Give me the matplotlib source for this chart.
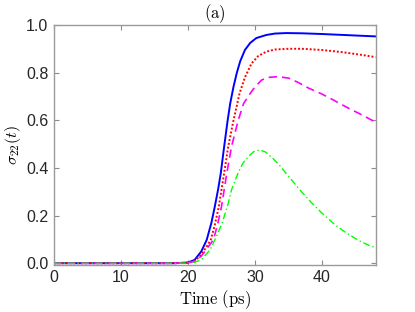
import matplotlib as mpl
import matplotlib.pyplot as plt

params = {
    "font.family": "sans-serif",
    "font.sans-serif": ["Liberation Sans", "DejaVu Sans"],
    "font.size": 10,
    "mathtext.fontset": "cm",
    "xtick.direction": "in",
    "ytick.direction": "in",
    "xtick.top": True,
    "ytick.right": True,
    "xtick.major.size": 3.5,
    "ytick.major.size": 3.5,
    "xtick.color": "#8c8c8c",
    "ytick.color": "#8c8c8c",
    "xtick.labelcolor": "#262626",
    "ytick.labelcolor": "#262626",
    "axes.edgecolor": "#9a9a9a",
    "axes.linewidth": 1.0,
}
mpl.rcParams.update(params)

# sigma_22(t) curves
t_blue = [0, 10, 18, 20, 21, 22, 22.8, 23.5, 24, 24.5, 24.9, 25.4, 25.9, 26.3,
          26.8, 27.3, 27.8, 28.5, 29.3, 30.2, 31.7, 33, 34.7, 37, 40, 44, 48]
s_blue = [0.0, 0.0, 0.0, 0.003, 0.014, 0.05, 0.098, 0.17, 0.237, 0.31, 0.378,
          0.489, 0.595, 0.67, 0.741, 0.80, 0.848, 0.895, 0.925, 0.945, 0.958,
          0.964, 0.966, 0.965, 0.962, 0.957, 0.952]

t_red = [0, 10, 18, 20, 21, 22, 23.4, 24, 24.6, 25.4, 26.0, 26.8, 27.7, 28.5,
         29.5, 30.5, 31.7, 33, 35, 37, 40, 43, 46, 48]
s_red = [0.0, 0.0, 0.0, 0.002, 0.01, 0.035, 0.098, 0.16, 0.237, 0.378, 0.489,
         0.60, 0.713, 0.78, 0.839, 0.87, 0.888, 0.897, 0.90, 0.90, 0.895,
         0.886, 0.874, 0.865]

t_mag = [0, 10, 18, 20, 21, 22, 23.8, 24.4, 25.0, 25.8, 26.5, 27.5, 28.3,
         29.3, 30, 31, 32, 33.4, 35, 36.5, 38, 40, 41.7, 44, 46, 48]
s_mag = [0.0, 0.0, 0.0, 0.002, 0.008, 0.03, 0.098, 0.16, 0.237, 0.378, 0.489,
         0.60, 0.67, 0.713, 0.74, 0.769, 0.78, 0.783, 0.777, 0.758, 0.735,
         0.71, 0.685, 0.65, 0.622, 0.592]

t_grn = [0, 10, 18, 20, 21, 22, 23.3, 24.2, 25.1, 26, 26.5, 27.5, 28.2, 29,
         29.8, 30.6, 31.5, 32.5, 33.7, 35, 36.7, 38.3, 40, 42, 43.7, 45.5,
         47, 48]
s_grn = [0.0, 0.0, 0.0, 0.001, 0.004, 0.015, 0.056, 0.11, 0.168, 0.25, 0.308,
         0.38, 0.42, 0.447, 0.468, 0.475, 0.468, 0.445, 0.41, 0.365, 0.308,
         0.258, 0.21, 0.16, 0.126, 0.095, 0.075, 0.066]

fig = plt.figure(figsize=(4.15, 3.12), dpi=100)
ax = fig.add_axes([0.130, 0.151, 0.775, 0.769])

ax.plot(t_blue, s_blue, color="#0000ff", lw=1.4, ls="-")
ax.plot(t_red, s_red, color="#ff0000", lw=1.4, ls=(0, (1, 1)))
ax.plot(t_mag, s_mag, color="#ff00ff", lw=1.2, ls=(0, (5, 3)))
ax.plot(t_grn, s_grn, color="#00ff00", lw=1.0, ls=(0, (5, 2, 1, 2)))

ax.set_xlim(0, 48)
ax.set_ylim(-0.007, 1.0)
ax.set_xticks([0, 10, 20, 30, 40])
ax.set_yticks([0.0, 0.2, 0.4, 0.6, 0.8, 1.0])
ax.set_yticklabels(["0.0", "0.2", "0.4", "0.6", "0.8", "1.0"])
ax.tick_params(labelsize=11.5, pad=4)

ax.set_xlabel(r"$\mathrm{Time\ (ps)}$", fontsize=12, labelpad=2)
ax.set_ylabel(r"$\sigma_{22}(t)$", fontsize=11.5, labelpad=2)
ax.set_title(r"$\mathrm{(a)}$", fontsize=12, pad=3)

fig.savefig("out.png", dpi=100)
